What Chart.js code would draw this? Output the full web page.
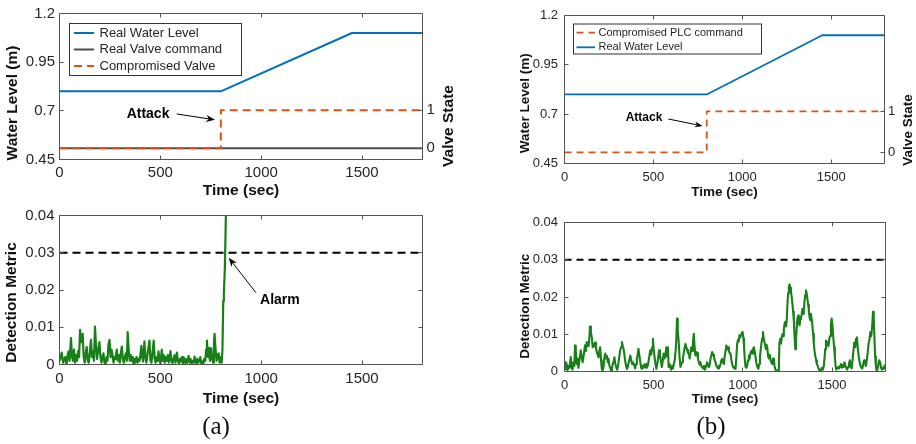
<!DOCTYPE html>
<html><head><meta charset="utf-8">
<script src="https://cdn.jsdelivr.net/npm/chart.js@4.4.1/dist/chart.umd.min.js"></script>
<style>
html,body{margin:0;padding:0;background:#fff;}
#wrap{position:relative;width:916px;height:444px;overflow:hidden;background:#fff;}
canvas{position:absolute;left:0;top:0;}
.cap{position:absolute;font-family:'Liberation Serif','Times New Roman',serif;font-size:25px;color:#111;transform:translate(-50%,-50%);white-space:nowrap;line-height:1;}
</style></head><body>
<div id="wrap">
<canvas id="cA1" width="916" height="444"></canvas>
<canvas id="cA2" width="916" height="444"></canvas>
<canvas id="cB1" width="916" height="444"></canvas>
<canvas id="cB2" width="916" height="444"></canvas>
<div class="cap" style="left:216px;top:425px">(a)</div>
<div class="cap" style="left:711px;top:425px">(b)</div>
</div>
<script>
// ---------- data ----------
const timeTicks = [0, 500, 1000, 1500];
const levelTicks = [0.45, 0.7, 0.95, 1.2];
const valveTicks = [0, 1];
const metricTicks = [0, 0.01, 0.02, 0.03, 0.04];

const levelTime = [0, 800, 1450, 1800];
const levelVals = [0.8, 0.8, 1.1, 1.1];
const valveTime = [0, 800, 800, 1800];
const compValve = [0, 0, 1, 1];
const realValveTime = [0, 1800];
const realValve = [0, 0];
const thresholdTime = [0, 1800];
const thresholdVals = [0.03, 0.03];

const detATime = [
 0,5,11,18,23,28,35,40,45,50,
 57,62,67,72,77,82,87,92,97,102,
 108,115,120,125,130,135,140,145,150,156,
 161,166,171,176,181,186,191,198,203,208,
 213,218,223,228,233,238,243,248,253,258,
 263,268,273,278,284,289,294,299,304,309,
 314,319,324,329,334,338,343,348,353,358,
 363,367,372,377,382,387,392,397,402,406,
 410,415,421,426,431,436,441,446,451,456,
 461,467,472,477,482,487,491,496,501,507,
 512,517,522,527,532,537,542,547,550,555,
 560,565,570,575,582,587,592,597,602,607,
 612,615,620,625,630,635,640,645,650,655,
 660,665,670,673,678,683,688,693,698,703,
 708,713,718,723,727,731,736,741,746,752,
 757,762,766,769,774,779,784,789,794,799,
 804,808,812,815,820,825,832];
const detAVals = [
 0.001,0.0018,0.0032,0.0005,0.0012,0.002,0.0,0.0025,0.0035,0.001,
 0.0071,0.002,0.001,0.004,0.0005,0.0025,0.001,0.0035,0.002,0.0093,
 0.006,0.0082,0.002,0.0005,0.003,0.0047,0.001,0.0005,0.003,0.0066,
 0.002,0.0035,0.001,0.0102,0.005,0.0015,0.0035,0.006,0.002,0.0005,
 0.002,0.003,0.0005,0.0,0.002,0.001,0.0055,0.0066,0.002,0.004,
 0.0025,0.0005,0.002,0.0015,0.004,0.001,0.0025,0.0005,0.003,0.0048,
 0.0015,0.0005,0.002,0.003,0.001,0.0087,0.004,0.001,0.0025,0.001,
 0.002,0.0,0.0015,0.0005,0.002,0.0005,0.0015,0.001,0.003,0.005,
 0.002,0.0008,0.0062,0.002,0.0005,0.0025,0.0045,0.0064,0.001,0.0005,
 0.003,0.0064,0.0015,0.0005,0.002,0.001,0.0035,0.001,0.0003,0.004,
 0.001,0.0025,0.0005,0.002,0.001,0.0025,0.0005,0.002,0.0036,0.001,
 0.0003,0.0015,0.0025,0.0005,0.0032,0.001,0.0003,0.0015,0.0008,0.002,
 0.0003,0.002,0.0005,0.0015,0.0003,0.001,0.0023,0.0005,0.0015,0.0003,
 0.001,0.0005,0.0021,0.001,0.0003,0.0015,0.0005,0.001,0.002,0.0003,
 0.0008,0.0002,0.0015,0.001,0.004,0.0064,0.002,0.0045,0.001,0.0044,
 0.0015,0.0005,0.006,0.0082,0.004,0.001,0.0025,0.003,0.0005,0.002,
 0.0005,0.004,0.017,0.019,0.026,0.04,0.055];

const detBTime = [
 0,3,8,12,17,22,28,35,40,45,
 50,55,59,63,68,73,78,84,91,96,
 102,108,115,120,125,130,135,140,143,148,
 153,158,162,167,172,176,181,186,191,195,
 200,205,209,214,219,223,228,233,238,243,
 247,252,256,261,266,270,275,280,285,290,
 295,300,306,312,317,322,327,331,336,340,
 345,350,355,360,365,369,374,379,384,391,
 396,401,406,411,415,420,425,430,434,439,
 444,449,453,458,462,467,472,476,481,486,
 491,496,500,505,510,515,520,525,530,535,
 540,546,551,556,561,566,571,576,580,584,
 589,593,598,603,608,613,618,623,627,631,
 635,640,645,650,655,659,664,668,673,678,
 683,687,692,697,702,706,711,716,720,725,
 729,734,739,744,748,753,758,762,767,772,
 777,782,787,791,796,800,805,810,815,819,
 824,828,833,838,842,847,852,856,861,866,
 870,875,880,884,889,894,898,903,908,912,
 917,922,926,931,936,940,945,950,954,959,
 964,968,973,977,981,986,990,995,999,1003,
 1006,1010,1015,1019,1024,1029,1034,1038,1043,1049,
 1053,1057,1062,1066,1071,1075,1080,1084,1087,1092,
 1096,1100,1104,1109,1113,1118,1124,1129,1133,1137,
 1142,1146,1151,1156,1160,1165,1170,1174,1178,1183,
 1188,1193,1198,1202,1205,1210,1214,1218,1222,1226,
 1230,1234,1238,1242,1246,1250,1254,1258,1262,1266,
 1270,1274,1278,1282,1286,1290,1294,1298,1302,1306,
 1310,1314,1318,1322,1326,1330,1334,1338,1342,1346,
 1350,1354,1358,1362,1366,1370,1374,1378,1382,1386,
 1390,1394,1398,1402,1406,1411,1415,1420,1425,1430,
 1434,1439,1444,1449,1454,1458,1462,1466,1471,1475,
 1480,1485,1489,1494,1498,1503,1507,1512,1516,1520,
 1525,1530,1535,1540,1545,1550,1555,1560,1565,1570,
 1575,1580,1585,1590,1595,1600,1605,1610,1615,1620,
 1625,1630,1635,1640,1645,1650,1655,1660,1665,1670,
 1675,1680,1685,1690,1695,1700,1705,1710,1715,1720,
 1725,1730,1734,1738,1742,1746,1750,1755,1760,1765,
 1770,1775,1780,1785,1790,1795,1800];
const detBVals = [
 0.0005,0.0007,0.0025,0.002,0.0003,0.0015,0.001,0.0039,0.001,0.0005,
 0.0025,0.0015,0.007,0.0058,0.002,0.0035,0.001,0.003,0.0057,0.004,
 0.0025,0.0045,0.007,0.0055,0.0079,0.0072,0.0068,0.0095,0.0121,0.0105,
 0.0092,0.0065,0.0074,0.0068,0.0078,0.0065,0.0052,0.0045,0.0038,0.0055,
 0.0065,0.003,0.0007,0.0003,0.0012,0.0035,0.0048,0.0035,0.0042,0.0025,
 0.0034,0.0015,0.001,0.0003,0.0008,0.002,0.0025,0.0038,0.002,0.0012,
 0.0005,0.0015,0.0035,0.0056,0.0065,0.0079,0.0068,0.0061,0.0045,0.003,
 0.0015,0.0007,0.0012,0.0025,0.0035,0.0043,0.003,0.002,0.0025,0.0016,
 0.0008,0.002,0.0034,0.0048,0.0061,0.0042,0.0025,0.001,0.0007,0.0015,
 0.001,0.002,0.0016,0.001,0.002,0.0015,0.003,0.0042,0.0057,0.0045,
 0.0065,0.0088,0.006,0.0039,0.002,0.0007,0.002,0.0035,0.0057,0.0045,
 0.003,0.0012,0.003,0.0048,0.0035,0.0045,0.0065,0.004,0.0065,0.0012,
 0.002,0.0012,0.0005,0.0015,0.0008,0.002,0.003,0.0055,0.0085,0.0142,
 0.011,0.0083,0.004,0.0012,0.002,0.0025,0.0035,0.0048,0.0062,0.0074,
 0.0065,0.0058,0.005,0.0048,0.0035,0.005,0.0065,0.0055,0.0075,0.0101,
 0.007,0.0043,0.0052,0.005,0.0035,0.0025,0.0018,0.0025,0.0015,0.0012,
 0.0008,0.0015,0.0005,0.001,0.0018,0.0025,0.0015,0.0012,0.002,0.0035,
 0.0045,0.0052,0.0045,0.004,0.003,0.0025,0.0015,0.0012,0.0008,0.0015,
 0.0012,0.002,0.003,0.0034,0.0025,0.002,0.004,0.0055,0.007,0.006,
 0.0065,0.0055,0.005,0.0048,0.003,0.002,0.0012,0.001,0.0008,0.0007,
 0.004,0.0074,0.0085,0.008,0.0097,0.0092,0.01,0.0105,0.0106,0.009,
 0.0074,0.004,0.0012,0.001,0.0015,0.003,0.0043,0.0035,0.005,0.0056,
 0.0048,0.006,0.0065,0.0055,0.004,0.0025,0.0015,0.001,0.0007,0.002,
 0.004,0.0057,0.0075,0.009,0.0106,0.0085,0.0074,0.006,0.0072,0.0065,
 0.004,0.0035,0.0045,0.003,0.0025,0.002,0.0035,0.003,0.0015,0.0005,
 0.0002,0.0003,0.0001,0.0005,0.0075,0.0088,0.0075,0.009,0.01,0.0095,
 0.0115,0.0128,0.0133,0.0121,0.0135,0.018,0.021,0.0225,0.0234,0.0225,
 0.0213,0.02,0.0182,0.016,0.0137,0.0095,0.006,0.0085,0.0115,0.0142,
 0.015,0.0135,0.0124,0.014,0.0145,0.0152,0.0168,0.0155,0.0164,0.019,
 0.0205,0.0218,0.021,0.0195,0.018,0.0165,0.0146,0.0138,0.0155,0.014,
 0.0125,0.0101,0.0075,0.0056,0.0042,0.003,0.002,0.0015,0.0008,0.0003,
 0.0001,0.0005,0.001,0.0005,0.0015,0.0035,0.006,0.0083,0.0075,0.0079,
 0.0068,0.0088,0.0095,0.0125,0.0142,0.012,0.0092,0.0065,0.004,0.0015,
 0.0005,0.001,0.0012,0.0008,0.0015,0.002,0.001,0.0018,0.0012,0.0025,
 0.0016,0.001,0.0005,0.0012,0.002,0.003,0.0015,0.0008,0.003,0.0055,
 0.0078,0.0065,0.0088,0.0092,0.006,0.004,0.0025,0.0015,0.001,0.0008,
 0.002,0.003,0.0025,0.0015,0.003,0.005,0.0075,0.0085,0.0106,0.0095,
 0.012,0.016,0.0145,0.009,0.004,0.0015,0.0003,0.0005,0.002,0.003,
 0.0025,0.001,0.0005,0.001,0.0007,0.0016,0.0012];

// ---------- styles ----------
const SANS = "'Liberation Sans', Arial, Helvetica, sans-serif";
const TICK = '#262626', TITLE = '#111111', FRAME = '#555555';
const BLUE = '#0072BD', ORANGE = '#D95319', GREY = '#4D4D4D', GREEN = '#178017', BLACK = '#000000';

const xy = (ts, vs) => ts.map((t, i) => ({x: t, y: vs[i]}));

// ---------- plugins ----------
const frameTicks = {id: 'frameTicks', afterDatasetsDraw(chart, args, o) {
  const ctx = chart.ctx, a = chart.chartArea, L = o.len;
  ctx.save();
  ctx.strokeStyle = o.color; ctx.lineWidth = 1;
  ctx.beginPath();
  ctx.rect(a.left, a.top, a.right - a.left, a.bottom - a.top);
  (o.marks || []).forEach(m => {
    const s = chart.scales[m.scale];
    s.ticks.forEach(tk => {
      const p = Math.floor(s.getPixelForValue(tk.value)) + 0.5;
      m.sides.forEach(side => {
        if (side === 'bottom') { ctx.moveTo(p, a.bottom); ctx.lineTo(p, a.bottom - L); }
        if (side === 'top') { ctx.moveTo(p, a.top); ctx.lineTo(p, a.top + L); }
        if (side === 'left') { ctx.moveTo(a.left, p); ctx.lineTo(a.left + L, p); }
        if (side === 'right') { ctx.moveTo(a.right, p); ctx.lineTo(a.right - L, p); }
      });
    });
  });
  ctx.stroke();
  ctx.restore();
}};

const yTitles = {id: 'yTitles', afterDraw(chart, args, o) {
  const ctx = chart.ctx;
  (o.items || []).forEach(it => {
    const s = chart.scales[it.scale];
    ctx.save();
    ctx.translate(it.x, it.y);
    ctx.rotate(-Math.PI / 2);
    ctx.font = it.font; ctx.fillStyle = TITLE;
    ctx.textAlign = 'center'; ctx.textBaseline = 'middle';
    ctx.fillText(s.options.title.text, 0, 0);
    ctx.restore();
  });
}};

const boxLegend = {id: 'boxLegend', afterDatasetsDraw(chart, args, o) {
  if (!o.items) return;
  const ctx = chart.ctx, a = chart.chartArea;
  const x0 = a.left + o.dx, y0 = a.top + o.dy;
  ctx.save();
  ctx.fillStyle = '#fff'; ctx.fillRect(x0, y0, o.w, o.h);
  ctx.strokeStyle = o.border; ctx.lineWidth = 1; ctx.strokeRect(x0, y0, o.w, o.h);
  ctx.font = o.font; ctx.textBaseline = 'middle'; ctx.textAlign = 'left';
  o.items.forEach((di, i) => {
    const ds = chart.data.datasets[di];
    const y = y0 + o.row0 + i * o.rowH;
    ctx.save();
    ctx.strokeStyle = ds.borderColor; ctx.lineWidth = ds.borderWidth;
    ctx.setLineDash(ds.borderDash || []);
    ctx.beginPath(); ctx.moveTo(x0 + o.s0, y); ctx.lineTo(x0 + o.s1, y); ctx.stroke();
    ctx.restore();
    ctx.fillStyle = TICK;
    ctx.fillText(ds.label, x0 + o.tx, y);
  });
  ctx.restore();
}};

const notes = {id: 'notes', afterDatasetsDraw(chart, args, o) {
  if (!o.items) return;
  const ctx = chart.ctx, xs = chart.scales[o.xScale], ys = chart.scales[o.yScale];
  const px = v => xs.getPixelForValue(v), py = v => ys.getPixelForValue(v);
  o.items.forEach(it => {
    ctx.save();
    ctx.font = it.font; ctx.fillStyle = '#000';
    ctx.textAlign = 'center'; ctx.textBaseline = 'middle';
    ctx.fillText(it.text, px(it.at[0]), py(it.at[1]));
    const x1 = px(it.from[0]), y1 = py(it.from[1]), x2 = px(it.to[0]), y2 = py(it.to[1]);
    const ang = Math.atan2(y2 - y1, x2 - x1), c = Math.cos(ang), s = Math.sin(ang);
    const hl = it.head, hw = it.headW;
    ctx.strokeStyle = '#000'; ctx.lineWidth = 1;
    ctx.beginPath(); ctx.moveTo(x1, y1); ctx.lineTo(x2 - hl * 0.7 * c, y2 - hl * 0.7 * s); ctx.stroke();
    ctx.beginPath();
    ctx.moveTo(x2, y2);
    ctx.lineTo(x2 - hl * c + hw * s, y2 - hl * s - hw * c);
    ctx.lineTo(x2 - hl * 0.7 * c, y2 - hl * 0.7 * s);
    ctx.lineTo(x2 - hl * c - hw * s, y2 - hl * s + hw * c);
    ctx.closePath(); ctx.fill();
    ctx.restore();
  });
}};

// ---------- axis builders ----------
function axisX(o) {
  return {type: 'linear', position: 'bottom', min: 0, max: 1800,
    afterBuildTicks: s => { s.ticks = timeTicks.map(v => ({value: v})); },
    afterFit: s => { s.height = o.h; },
    grid: {display: false, drawTicks: false}, border: {display: false},
    ticks: {padding: o.pad, color: TICK, autoSkip: false, maxRotation: 0, minRotation: 0,
      font: {family: SANS, size: o.fs}, callback: v => String(v)},
    title: {display: true, text: 'Time (sec)', padding: 0, color: TITLE,
      font: {family: SANS, size: o.tfs, weight: 'bold'}}};
}
function axisY(o) {
  return {type: 'linear', position: o.pos, min: o.min, max: o.max,
    afterBuildTicks: s => { s.ticks = o.ticks.map(v => ({value: v})); },
    afterFit: s => { s.width = o.w; },
    grid: {display: false, drawTicks: false}, border: {display: false},
    ticks: {padding: o.pad, color: TICK, autoSkip: false, font: {family: SANS, size: o.fs}, callback: v => String(v)},
    title: {display: false, text: o.title}};
}
const base = {responsive: false, animation: false, events: [], devicePixelRatio: 1,
  layout: {autoPadding: false}};
function lineDs(label, ts, vs, axis, color, width, dash, order) {
  return {label, data: xy(ts, vs), yAxisID: axis, borderColor: color, borderWidth: width,
    borderDash: dash || [], pointRadius: 0, fill: false, tension: 0, order: order,
    borderJoinStyle: 'round'};
}

// ---------- (a) top ----------
new Chart(document.getElementById('cA1'), {
  type: 'line',
  data: {datasets: [
    lineDs('Real Water Level', levelTime, levelVals, 'y', BLUE, 2, null, 1),
    lineDs('Real Valve command', realValveTime, realValve, 'y2', GREY, 2, null, 2),
    lineDs('Compromised Valve', valveTime, compValve, 'y2', ORANGE, 2, [8, 5], 0)
  ]},
  options: Object.assign({}, base, {
    layout: {autoPadding: false, padding: {left: 0, top: 11.5, right: 453.5, bottom: 243.6}},
    scales: {
      x: axisX({h: 40.9, pad: 4.5, fs: 15, tfs: 15.5}),
      y: axisY({pos: 'left', min: 0.45, max: 1.2, ticks: levelTicks, w: 59.5, pad: 4.5, fs: 15, title: 'Water Level (m)'}),
      y2: axisY({pos: 'right', min: -0.3, max: 3.56, ticks: valveTicks, w: 40, pad: 4, fs: 15, title: 'Valve State'})
    },
    plugins: {legend: {display: false}, tooltip: {enabled: false},
      frameTicks: {color: FRAME, len: 4, marks: [{scale: 'x', sides: ['bottom', 'top']}, {scale: 'y', sides: ['left']}, {scale: 'y2', sides: ['right']}]},
      yTitles: {items: [{scale: 'y', x: 12.4, y: 103, font: `bold 15.5px ${SANS}`}, {scale: 'y2', x: 449, y: 126, font: `bold 15.5px ${SANS}`}]},
      boxLegend: {dx: 10, dy: 10, w: 172, h: 52, row0: 9.5, rowH: 16.5, s0: 4.5, s1: 24.5, tx: 30, font: `13px ${SANS}`, border: '#333', items: [0, 1, 2]},
      notes: {xScale: 'x', yScale: 'y', items: [{text: 'Attack', at: [439, 0.683], from: [581, 0.684], to: [771, 0.6537], font: `bold 14px ${SANS}`, head: 9, headW: 3.5}]}
    }
  }),
  plugins: [frameTicks, yTitles, boxLegend, notes]
});

// ---------- (a) bottom ----------
new Chart(document.getElementById('cA2'), {
  type: 'line',
  data: {datasets: [
    lineDs('Detection Metric', detATime, detAVals, 'y', GREEN, 2.2, null, 1),
    lineDs('Threshold', thresholdTime, thresholdVals, 'y', BLACK, 2, [8, 5], 0)
  ]},
  options: Object.assign({}, base, {
    layout: {autoPadding: false, padding: {left: 0, top: 215.5, right: 493.5, bottom: 36}},
    scales: {
      x: axisX({h: 43.5, pad: 4.9, fs: 15, tfs: 15.5}),
      y: axisY({pos: 'left', min: 0, max: 0.04, ticks: metricTicks, w: 59.5, pad: 5, fs: 15, title: 'Detection Metric'})
    },
    plugins: {legend: {display: false}, tooltip: {enabled: false},
      frameTicks: {color: FRAME, len: 4, marks: [{scale: 'x', sides: ['bottom', 'top']}, {scale: 'y', sides: ['left', 'right']}]},
      yTitles: {items: [{scale: 'y', x: 11.7, y: 302.5, font: `bold 15.5px ${SANS}`}]},
      notes: {xScale: 'x', yScale: 'y', items: [{text: 'Alarm', at: [1093, 0.01715], from: [974, 0.01928], to: [839, 0.02867], font: `bold 14px ${SANS}`, head: 9, headW: 3.5}]}
    }
  }),
  plugins: [frameTicks, yTitles, notes]
});

// ---------- (b) top ----------
new Chart(document.getElementById('cB1'), {
  type: 'line',
  data: {datasets: [
    lineDs('Compromised PLC command', valveTime, compValve, 'y2', ORANGE, 1.8, [7, 5], 0),
    lineDs('Real Water Level', levelTime, levelVals, 'y', BLUE, 1.8, null, 1)
  ]},
  options: Object.assign({}, base, {
    layout: {autoPadding: false, padding: {left: 494.5, top: 15.5, right: 1.5, bottom: 243.9}},
    scales: {
      x: axisX({h: 36.6, pad: 6, fs: 13, tfs: 13.5}),
      y: axisY({pos: 'left', min: 0.45, max: 1.2, ticks: levelTicks, w: 70, pad: 6.5, fs: 13, title: 'Water Level (m)'}),
      y2: axisY({pos: 'right', min: -0.27, max: 3.33, ticks: valveTicks, w: 30, pad: 3.5, fs: 13, title: 'Valve State'})
    },
    plugins: {legend: {display: false}, tooltip: {enabled: false},
      frameTicks: {color: FRAME, len: 4, marks: [{scale: 'x', sides: ['bottom', 'top']}, {scale: 'y', sides: ['left']}, {scale: 'y2', sides: ['right']}]},
      yTitles: {items: [{scale: 'y', x: 525.3, y: 103.3, font: `bold 13.5px ${SANS}`}, {scale: 'y2', x: 907.8, y: 130, font: `bold 13.5px ${SANS}`}]},
      boxLegend: {dx: 9, dy: 8.5, w: 188, h: 30, row0: 8.7, rowH: 14.6, s0: 3, s1: 21.5, tx: 25, font: `11px ${SANS}`, border: '#333', items: [0, 1]},
      notes: {xScale: 'x', yScale: 'y', items: [{text: 'Attack', at: [447, 0.6806], from: [584, 0.6755], to: [777, 0.64], font: `bold 12px ${SANS}`, head: 8, headW: 3}]}
    }
  }),
  plugins: [frameTicks, yTitles, boxLegend, notes]
});

// ---------- (b) bottom ----------
new Chart(document.getElementById('cB2'), {
  type: 'line',
  data: {datasets: [
    lineDs('Detection Metric', detBTime, detBVals, 'y', GREEN, 2.1, null, 1),
    lineDs('Threshold', thresholdTime, thresholdVals, 'y', BLACK, 1.8, [7, 5], 0)
  ]},
  options: Object.assign({}, base, {
    layout: {autoPadding: false, padding: {left: 494.5, top: 222.5, right: 30.5, bottom: 36.6}},
    scales: {
      x: axisX({h: 35.9, pad: 6.3, fs: 13, tfs: 13.5}),
      y: axisY({pos: 'left', min: 0, max: 0.04, ticks: metricTicks, w: 70, pad: 6.5, fs: 13, title: 'Detection Metric'})
    },
    plugins: {legend: {display: false}, tooltip: {enabled: false},
      frameTicks: {color: FRAME, len: 4, marks: [{scale: 'x', sides: ['bottom', 'top']}, {scale: 'y', sides: ['left', 'right']}]},
      yTitles: {items: [{scale: 'y', x: 525, y: 306.2, font: `bold 13.5px ${SANS}`}]}
    }
  }),
  plugins: [frameTicks, yTitles]
});
</script>
</body></html>
